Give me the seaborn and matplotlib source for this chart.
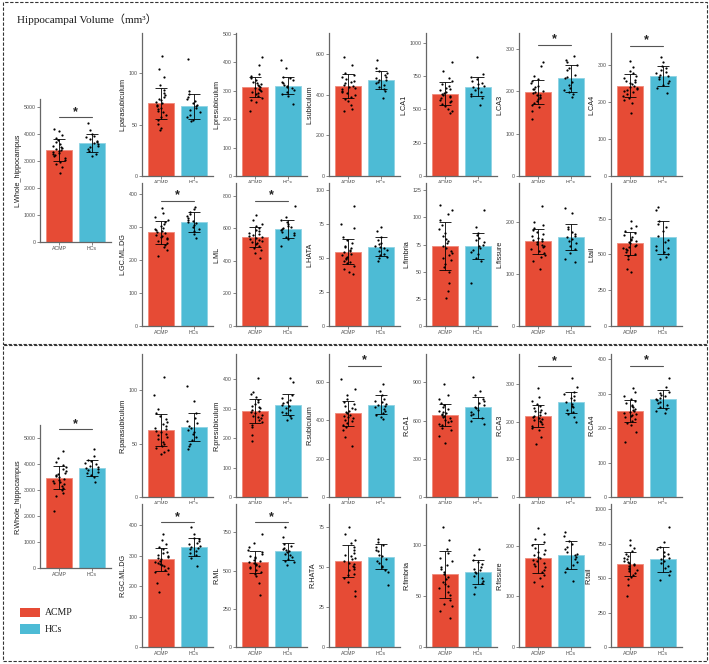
import matplotlib
matplotlib.use("Agg")
import matplotlib.pyplot as plt
from matplotlib.patches import Rectangle
from matplotlib.ticker import MultipleLocator
import numpy as np
import pandas as pd
import seaborn as sns

groups = ["ACMP", "HCs"]
colors = {"ACMP": "#E64B35", "HCs": "#4DBBD5"}
edges = {"ACMP": "#F08A7C", "HCs": "#8FD3E4"}

# panel order: whole, row 1 (6), row 2 (6)
structures = ["Whole_hippocampus", "parasubiculum", "presubiculum", "subiculum", "CA1", "CA3", "CA4",
              "GC.ML.DG", "ML", "HATA", "fimbria", "fissure", "tail"]

# ---- left hemisphere ----
left_acmp_mean = [3420, 70.7, 313, 443, 618, 198, 244, 283, 547, 54.7, 73.8, 163, 576]
left_acmp_sd = [407, 15, 34, 59, 86, 28, 30, 34, 61, 9.5, 21.8, 24, 81]
left_hcs_mean = [3679, 67.8, 318, 469, 671, 230, 270, 314, 596, 58.3, 74.1, 171, 618]
left_hcs_sd = [333, 12, 31, 44, 73, 31, 27, 29, 53, 7, 12, 25, 116]
left_sig = [4630, None, None, None, None, 309, 352, 379, 769, None, None, None, None]

left_acmp_pts = [
    [2580, 2770, 2890, 2970, 3050, 3120, 3180, 3220, 3260, 3300, 3340, 3380, 3420, 3460, 3500, 3540, 3580, 3640, 3700, 3790, 3870, 3970, 4110, 4200],
    [45, 47, 51, 54, 57, 59, 62, 63, 65, 66, 68, 69, 71, 72, 74, 75, 77, 79, 81, 84, 88, 96, 104, 117],
    [230, 259, 269, 276, 282, 288, 293, 296, 299, 303, 306, 310, 313, 316, 320, 323, 327, 332, 337, 344, 350, 359, 390, 420],
    [320, 330, 349, 366, 378, 390, 399, 408, 414, 419, 425, 431, 437, 443, 449, 455, 461, 467, 475, 484, 496, 508, 543, 585],
    [470, 485, 506, 523, 541, 554, 566, 575, 584, 592, 601, 609, 618, 627, 635, 644, 652, 665, 678, 695, 713, 734, 790, 860],
    [135, 153, 162, 167, 173, 177, 181, 184, 187, 190, 192, 195, 198, 201, 204, 206, 209, 213, 218, 223, 229, 236, 260, 268],
    [170, 196, 205, 211, 217, 222, 226, 229, 232, 235, 238, 241, 244, 247, 250, 253, 256, 260, 265, 271, 277, 284, 295, 310],
    [210, 229, 239, 246, 252, 258, 263, 266, 269, 273, 276, 280, 283, 286, 290, 293, 297, 302, 307, 314, 320, 329, 341, 355],
    [415, 449, 468, 480, 492, 501, 510, 517, 523, 529, 535, 541, 547, 553, 559, 565, 571, 581, 590, 602, 614, 629, 651, 680],
    [38, 40, 42, 44, 46, 47, 48, 49, 50, 51, 52, 53, 54, 55, 56, 57, 58, 59, 61, 63, 65, 72, 75, 88],
    [26, 32, 40, 50, 54, 57, 61, 63, 65, 67, 69, 72, 74, 76, 78, 80, 83, 86, 89, 93, 98, 103, 107, 111],
    [110, 125, 132, 137, 141, 145, 149, 151, 153, 156, 158, 161, 163, 165, 168, 170, 173, 176, 180, 185, 189, 195, 200, 230],
    [380, 400, 471, 487, 503, 515, 527, 536, 544, 552, 560, 568, 576, 584, 592, 600, 608, 621, 633, 649, 665, 685, 700, 730],
]
left_hcs_pts = [
    [3200, 3280, 3380, 3450, 3510, 3580, 3630, 3680, 3710, 3760, 3810, 3880, 3950, 4010, 4150, 4420],
    [53, 54, 57, 59, 62, 64, 66, 68, 69, 71, 73, 75, 77, 80, 83, 114],
    [255, 281, 290, 296, 302, 309, 313, 318, 321, 326, 330, 337, 343, 349, 380, 408],
    [385, 416, 429, 438, 447, 456, 462, 469, 473, 480, 487, 495, 504, 513, 531, 570],
    [530, 583, 605, 620, 634, 649, 660, 671, 678, 689, 700, 715, 729, 744, 770, 895],
    [185, 193, 197, 202, 208, 215, 221, 230, 233, 238, 249, 255, 261, 268, 273, 282],
    [225, 238, 246, 251, 256, 262, 266, 270, 273, 277, 281, 286, 292, 297, 308, 320],
    [265, 279, 288, 294, 300, 305, 310, 314, 317, 321, 326, 331, 337, 343, 352, 360],
    [490, 532, 548, 559, 570, 580, 588, 596, 601, 609, 617, 628, 638, 649, 670, 735],
    [48, 50, 51, 52, 53, 55, 56, 57, 58, 59, 60, 61, 63, 65, 70, 73],
    [40, 60, 63, 66, 68, 70, 72, 74, 75, 77, 79, 81, 84, 86, 91, 107],
    [123, 128, 141, 149, 154, 159, 164, 167, 171, 174, 177, 181, 186, 191, 218, 226],
    [470, 480, 500, 514, 530, 545, 560, 583, 601, 630, 664, 688, 711, 734, 810, 830],
]

# ---- right hemisphere ----
right_acmp_mean = [3487, 62.8, 292.6, 436, 642, 216, 250, 287, 558, 53.8, 71.1, 175, 602]
right_acmp_sd = [450, 14.7, 42, 66, 88, 29, 32, 37, 72, 10, 22.7, 29, 85]
right_hcs_mean = [3872, 65.6, 314, 481, 704, 251.5, 285, 329, 628, 56.6, 73.4, 181.5, 636]
right_hcs_sd = [310, 13.4, 35, 50, 84, 28, 26, 30, 56, 7.7, 11.8, 27.7, 92]
right_sig = [5346, None, None, 682, None, 348, 381, 409, 816, None, None, None, None]

right_acmp_pts = [
    [2200, 2770, 2900, 2990, 3080, 3150, 3220, 3260, 3310, 3350, 3400, 3440, 3490, 3530, 3580, 3620, 3670, 3740, 3800, 3890, 3980, 4100, 4250, 4500],
    [40, 42, 44, 46, 48, 50, 52, 54, 56, 58, 59, 61, 62, 64, 65, 67, 68, 70, 73, 76, 79, 82, 96, 112],
    [190, 212, 238, 246, 255, 261, 267, 272, 276, 280, 284, 288, 293, 297, 301, 305, 309, 316, 322, 330, 339, 349, 358, 405],
    [265, 310, 350, 363, 377, 387, 396, 403, 410, 416, 423, 429, 436, 443, 449, 456, 462, 472, 482, 495, 509, 530, 560, 615],
    [420, 480, 528, 545, 563, 576, 589, 598, 607, 616, 624, 633, 642, 651, 660, 668, 677, 690, 704, 721, 739, 770, 800, 890],
    [140, 160, 178, 184, 190, 194, 199, 202, 204, 207, 210, 213, 216, 219, 222, 225, 228, 232, 236, 242, 248, 255, 265, 290],
    [160, 190, 208, 215, 221, 226, 231, 234, 237, 240, 244, 247, 250, 253, 256, 260, 263, 268, 272, 279, 285, 293, 304, 315],
    [180, 210, 239, 246, 254, 259, 265, 269, 272, 276, 280, 283, 287, 291, 294, 298, 302, 307, 313, 320, 328, 337, 350, 370],
    [340, 420, 464, 479, 493, 504, 515, 522, 529, 536, 544, 551, 558, 565, 572, 580, 587, 598, 608, 623, 637, 655, 680, 740],
    [32, 35, 41, 43, 45, 46, 48, 49, 50, 51, 52, 53, 54, 55, 56, 57, 58, 59, 61, 63, 65, 67, 71, 75],
    [28, 35, 40, 42, 46, 51, 54, 58, 60, 62, 64, 67, 69, 71, 73, 76, 78, 80, 84, 87, 92, 96, 105, 117],
    [120, 129, 137, 143, 149, 153, 158, 160, 163, 166, 169, 172, 175, 178, 181, 184, 187, 191, 195, 201, 207, 214, 224, 235],
    [370, 450, 492, 509, 526, 538, 551, 560, 568, 577, 585, 594, 602, 611, 619, 628, 636, 649, 662, 679, 696, 717, 740, 775],
]
right_hcs_pts = [
    [3300, 3500, 3590, 3660, 3720, 3780, 3830, 3870, 3900, 3950, 4000, 4060, 4120, 4180, 4310, 4600],
    [45, 48, 50, 53, 56, 59, 61, 63, 65, 67, 69, 71, 74, 79, 90, 104],
    [260, 268, 276, 284, 290, 297, 304, 309, 314, 318, 323, 328, 335, 345, 390, 405],
    [405, 415, 425, 436, 446, 456, 466, 474, 481, 486, 494, 501, 511, 531, 551, 590],
    [570, 595, 620, 640, 655, 670, 685, 700, 710, 725, 738, 754, 771, 800, 830, 940],
    [200, 212, 220, 226, 232, 238, 243, 247, 252, 258, 263, 268, 274, 280, 291, 315],
    [245, 250, 256, 262, 267, 272, 277, 281, 285, 288, 292, 295, 301, 306, 318, 345],
    [265, 293, 302, 308, 314, 320, 325, 329, 332, 337, 341, 347, 353, 359, 371, 395],
    [535, 555, 565, 578, 589, 600, 611, 620, 628, 634, 642, 650, 662, 673, 720, 785],
    [39, 47, 48, 50, 51, 53, 54, 55, 57, 58, 60, 61, 63, 64, 66, 68],
    [52, 59, 63, 65, 68, 70, 72, 73, 75, 76, 78, 81, 83, 85, 90, 96],
    [130, 148, 157, 162, 168, 173, 177, 182, 184, 188, 193, 198, 204, 209, 220, 228],
    [490, 526, 553, 572, 590, 608, 622, 636, 645, 659, 673, 691, 710, 728, 760, 870],
]

# axis ranges / tick steps
left_ymax = [5309, 139, 503, 702, 1075, 337, 386, 432, 878, 105, 131.7, 275, 998]
left_step = [1000, 50, 100, 200, 250, 100, 100, 100, 200, 25, 25, 100, 250]
right_ymax = [5513, 134, 486, 744, 1122, 380, 415, 469, 936, 89.7, 140, 282.5, 1039]
right_step = [1000, 50, 100, 200, 300, 100, 100, 100, 250, 25, 50, 100, 250]

sns.set_style("ticks")
plt.rcParams["font.family"] = ["Liberation Sans", "DejaVu Sans"]
np.random.seed(3)

W, H = 709, 664
fig = plt.figure(figsize=(W / 100, H / 100), dpi=100)

col_x = [142, 236, 329, 426, 519, 611]
AXW = 71
AXH = 143


def place(x, ytop):
    return fig.add_axes([x / W, 1 - (ytop + AXH) / H, AXW / W, AXH / H])


def panel(ax, name, m, s, pa, ph, sig, ymax, step):
    bars = pd.DataFrame({"group": groups, "mean": m})
    pts = pd.DataFrame({"group": ["ACMP"] * len(pa) + ["HCs"] * len(ph), "value": pa + ph})
    sns.barplot(data=bars, x="group", y="mean", hue="group", order=groups, palette=colors,
                saturation=1, width=0.8, legend=False, ax=ax, zorder=1)
    for patch, g in zip(ax.patches, groups):
        patch.set_edgecolor(edges[g])
        patch.set_linewidth(0.6)
    sns.stripplot(data=pts, x="group", y="value", order=groups, color="black", size=1.6,
                  jitter=0.22, ax=ax, zorder=3)
    ax.errorbar([0, 1], m, yerr=s, fmt="none", ecolor="black", elinewidth=0.6,
                capsize=4.3, capthick=0.6, zorder=5)
    if sig is not None:
        ax.plot([0, 1], [sig, sig], color="#555555", lw=0.8, zorder=4)
        ax.annotate("*", (0.5, sig), xytext=(0, -0.5), textcoords="offset points",
                    ha="center", va="bottom", fontsize=9, fontweight="bold", color="#222222")
    ax.set_xlim(-0.6, 1.6)
    ax.set_ylim(0, ymax)
    ax.yaxis.set_major_locator(MultipleLocator(step))
    ax.set_xlabel("")
    ax.set_ylabel(name, fontsize=5.2, color="#1a1a1a", labelpad=1.5)
    ax.tick_params(labelsize=3.8, colors="#555555", labelcolor="#4d4d4d", length=2, width=0.5, pad=1)
    sns.despine(ax=ax)
    for sp in ("left", "bottom"):
        ax.spines[sp].set_color("#666666")
        ax.spines[sp].set_linewidth(0.9)


def side(prefix, am, asd, hm, hsd, apts, hpts, sig, ymax, step, whole_top, row_tops):
    for i in range(13):
        if i == 0:
            ax = place(40, whole_top)
        else:
            r, c = divmod(i - 1, 6)
            ax = place(col_x[c], row_tops[r])
        panel(ax, prefix + structures[i], [am[i], hm[i]], [asd[i], hsd[i]],
              apts[i], hpts[i], sig[i], ymax[i], step[i])


side("L.", left_acmp_mean, left_acmp_sd, left_hcs_mean, left_hcs_sd, left_acmp_pts, left_hcs_pts,
     left_sig, left_ymax, left_step, 99, [33, 183])
side("R.", right_acmp_mean, right_acmp_sd, right_hcs_mean, right_hcs_sd, right_acmp_pts, right_hcs_pts,
     right_sig, right_ymax, right_step, 425, [354, 504])

# frames
for y0, y1 in [(1.5, 343.5), (344.5, 661)]:
    fig.add_artist(Rectangle((2.5 / W, 1 - y1 / H), 704 / W, (y1 - y0) / H, transform=fig.transFigure,
                             fill=False, ec="#333333", lw=0.8, ls=(0, (3, 1.5))))

serif = ["Liberation Serif", "Noto Sans CJK SC", "DejaVu Serif"]
fig.text(17 / W, 1 - 19 / H, "Hippocampal Volume（mm³）", family=serif, fontsize=8,
         va="center", ha="left", color="#1a1a1a")

for g, (y0, y1) in zip(groups, [(608, 617), (624, 634)]):
    fig.add_artist(Rectangle((20 / W, 1 - y1 / H), 20 / W, (y1 - y0) / H, transform=fig.transFigure,
                             fc=colors[g], ec="none"))
    fig.text(45 / W, 1 - (y0 + y1) / 2 / H, g, family=serif, fontsize=7, va="center", ha="left",
             color="#1a1a1a")

fig.savefig("out.png", dpi=100)
